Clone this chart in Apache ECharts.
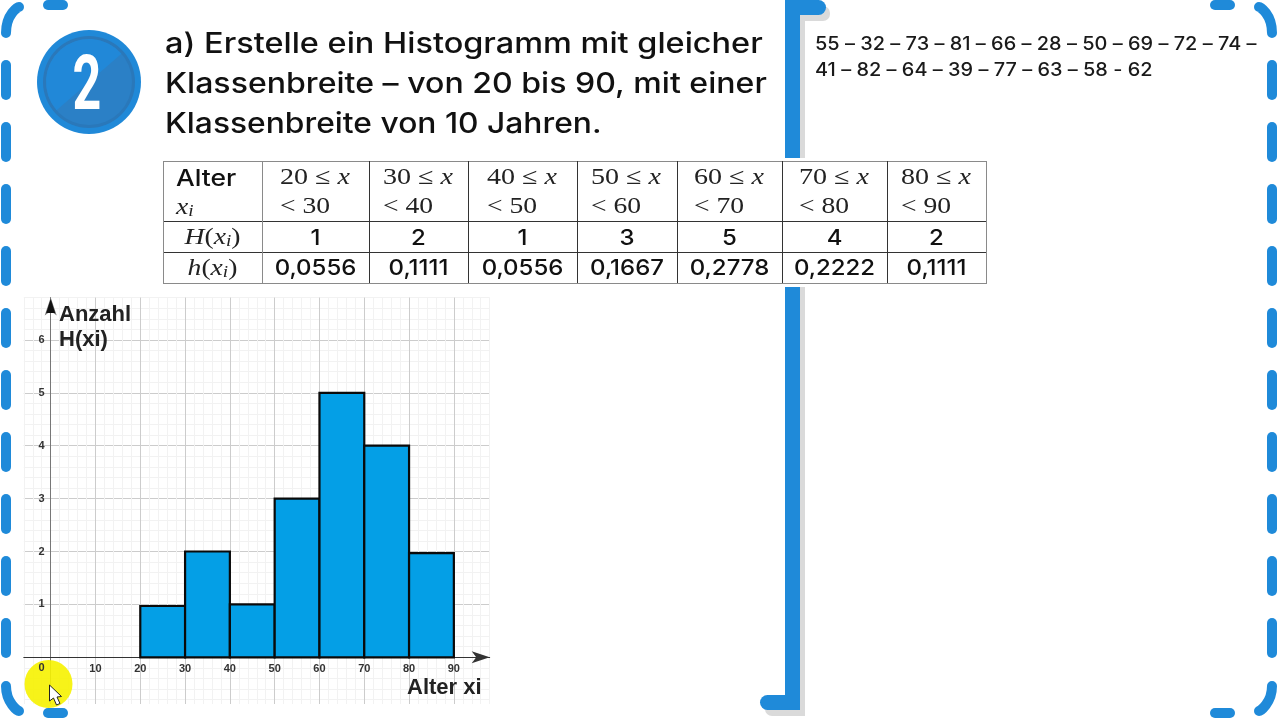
<!DOCTYPE html>
<html><head><meta charset="utf-8">
<style>html,body{margin:0;padding:0;background:#fff}#c{width:1280px;height:720px}</style>
<script src="https://cdn.jsdelivr.net/npm/echarts@6/dist/echarts.min.js"></script>
</head><body><div id="c"></div>
<script>
const classLower = [20,30,40,50,60,70,80];
const classUpper = [30,40,50,60,70,80,90];
const barHeights = [0.97,2,1,3,5,4,1.97];
const countLabels = ['1','2','1','3','5','4','2'];
const relFreqLabels = ['0,0556','0,1111','0,0556','0,1667','0,2778','0,2222','0,1111'];
const headingLines = ['a) Erstelle ein Histogramm mit gleicher','Klassenbreite – von 20 bis 90, mit einer','Klassenbreite von 10 Jahren.'];
const ageLines = ['55 – 32 – 73 – 81 – 66 – 28 – 50 – 69 – 72 – 74 –','41 – 82 – 64 – 39 – 77 – 63 – 58 - 62'];

const BLUE='#1f8ad9', SHADOW='#dadada', SANS='Inter', SERIF='"Liberation Serif"', ARIAL='"Liberation Sans"';
const colX=[163,262,369,468,577,677,782,887,986];
const rowY=[161,221,252,283];
const MAJOR='#cccccc', MINOR='#f2f2f2';
const g=[];
const rect=(x,y,w,h,fill,z,r)=>g.push({type:'rect',silent:true,z:z,shape:{x,y,width:w,height:h,r:r||0},style:{fill}});
const line=(x1,y1,x2,y2,stroke,w,z,cap)=>g.push({type:'line',silent:true,z:z,shape:{x1,y1,x2,y2},style:{stroke,lineWidth:w,lineCap:cap||'butt'}});
const text=(t,x,y,font,fill,align,z,rich,sx)=>g.push({type:'text',silent:true,z:z,x,y,scaleX:sx||1,style:{text:t,font,fill,align:align||'left',verticalAlign:'middle',rich}});

// frame dashes
for(let y=60;y<640;y+=62){ line(6,y+5,6,y+35,BLUE,10,20,'round'); line(1272,y+5,1272,y+35,BLUE,10,20,'round'); }
[[48,63,5],[48,63,713],[1215,1230,5],[1215,1230,713]].forEach(d=>line(d[0],d[2],d[1],d[2],BLUE,10,20,'round'));
[[6,33,6,14,18,7,19,7],[1272,33,1272,14,1260,7,1259,7],[6,686,6,703,18,711,19,711],[1272,686,1272,703,1260,711,1259,711]].forEach(c=>
  g.push({type:'bezierCurve',silent:true,z:20,shape:{x1:c[0],y1:c[1],cpx1:c[2],cpy1:c[3],cpx2:c[4],cpy2:c[5],x2:c[6],y2:c[7]},style:{stroke:BLUE,lineWidth:10,lineCap:'round',fill:'none'}}));

// centre bracket
rect(790,6,40,15,SHADOW,5,[0,7,7,0]);
rect(800,6,5,710,SHADOW,5);
rect(765,701,40,15,SHADOW,5,[7,0,0,7]);
rect(785,0,15,710,BLUE,6);
rect(785,0,41,15,BLUE,6,[0,7.5,7.5,0]);
rect(760,695,40,15,BLUE,6,[7.5,0,0,7.5]);
rect(770,158,230,129,'#ffffff',7);

// numbered badge
g.push({type:'circle',silent:true,z:8,shape:{cx:89,cy:82,r:52},style:{fill:'#2089d8'}});
g.push({type:'circle',silent:true,z:8,shape:{cx:89,cy:82,r:46},style:{fill:'#2a78ba'}});
g.push({type:'circle',silent:true,z:8,shape:{cx:89,cy:82,r:43},style:{fill:'#2b80c6'}});
g.push({type:'sector',silent:true,z:8,shape:{cx:89,cy:82,r:43,startAngle:Math.PI*0.772,endAngle:Math.PI*1.772},style:{fill:'#2188d8'}});
g.push({type:'text',silent:true,z:9,x:87,y:90,scaleX:0.66,style:{text:'2',font:'bold 76px Roboto',fill:'#fff',align:'center',verticalAlign:'middle'}});

// heading and raw ages
const headScale=[1.152,1.138,1.127];
headingLines.forEach((t,i)=>text(t,165,45+40*i,'500 28.2px '+SANS,'#111','left',10,undefined,headScale[i]));
ageLines.forEach((t,i)=>text(t,815,45+26*i,'500 18.3px '+SANS,'#1a1a1a','left',10,undefined,1.09));

// table
rect(163,161,824,122,'#fff',8);
rowY.forEach((y,i)=>line(163,y+.5,colX[8]+1,y+.5,(i==0||i==3)?'#8a8a8a':'#333',1,9));
colX.forEach((x,i)=>line(x+.5,161,x+.5,283,(i==0||i==1||i==8)?'#8a8a8a':'#333',1,9));
const math={m:{font:'23px '+SERIF,fill:'#222'},i:{font:'italic 23px '+SERIF,fill:'#222'},s:{font:'italic 16px '+SERIF,fill:'#222',verticalAlign:'bottom',padding:[8,0,0,0]}};
text('Alter',176,179,'500 23px '+SANS,'#111','left',10,undefined,1.15);
text('{i|x}{s|i}',176,208,'23px '+SERIF,'#222','left',10,math,1.2);
text('{i|H}{m|(}{i|x}{s|i}{m|)}',212.5,238,'23px '+SERIF,'#222','center',10,math,1.2);
text('{i|h}{m|(}{i|x}{s|i}{m|)}',212.5,269,'23px '+SERIF,'#222','center',10,math,1.2);
const lowX=[280,383,487,591,694,799,901];
classLower.forEach((lo,i)=>{
  text('{m|'+lo+' ≤ }{i|x}',lowX[i],178,'23px '+SERIF,'#222','left',10,math,1.22);
  text('{m|< '+classUpper[i]+'}',lowX[i],207,'23px '+SERIF,'#222','left',10,math,1.2);
  const cx=(colX[i+1]+colX[i+2])/2;
  text(countLabels[i],cx,238,'500 22px '+SANS,'#111','center',10,undefined,1.09);
  text(relFreqLabels[i],cx,268.5,'500 22px '+SANS,'#111','center',10,undefined,1.09);
});

// axis titles and arrow head
text('Anzahl',59,315,'bold 22px '+ARIAL,'#222','left',10);
text('H(xi)',59,340,'bold 22px '+ARIAL,'#222','left',10);
text('Alter xi',407,688,'bold 22px '+ARIAL,'#222','left',10);
g.push({type:'polygon',silent:true,z:4,shape:{points:[[50.7,299],[46.2,313],[55.2,313]]},style:{fill:'#111'}});

// trim of the grid at its lower edge, pointer highlight, origin label and cursor
rect(15,704,480,10,'#fff',1);
g.push({type:'circle',silent:true,z:2,shape:{cx:48.5,cy:684,r:24},style:{fill:'rgba(246,242,0,0.9)'}});
text('0',41.5,668,'bold 11px '+ARIAL,'#333','center',4);
g.push({type:'polygon',silent:true,z:30,shape:{points:[[49.5,685],[49.5,701],[53.5,698],[56.5,705],[60,703.5],[57,697],[61.5,696.5]]},style:{fill:'#fff',stroke:'#222',lineWidth:1}});

const xColors=[MINOR,MINOR,MINOR,MAJOR,MINOR], yColors=[MAJOR,MINOR,MINOR,MINOR,MINOR];
const near=(v,n)=>Math.abs(v-Math.round(v/n)*n)<1e-6;

const chart=echarts.init(document.getElementById('c'),null,{renderer:'canvas'});
chart.setOption({
  animation:false,backgroundColor:'#fff',
  grid:{left:23.8,top:297.6,width:465.9,height:412.6,containLabel:false},
  xAxis:{type:'value',min:-6,max:98,interval:2,offset:-52.9,
    axisLine:{show:true,onZero:false,lineStyle:{color:'#333',width:1},symbol:['none','arrow'],symbolSize:[9,18]},
    axisTick:{show:false},
    splitLine:{show:true,lineStyle:{color:xColors,width:1}},
    axisLabel:{show:true,interval:0,margin:6,showMinLabel:false,showMaxLabel:false,hideOverlap:false,
      color:'#333',fontFamily:ARIAL,fontWeight:'bold',fontSize:11,
      formatter:v=>(near(v,10)&&v>0&&v<=90)?String(Math.round(v)):''}},
  yAxis:{type:'value',min:-1,max:6.8,interval:0.2,offset:-26.9,
    axisLine:{show:true,onZero:false,lineStyle:{color:'#777',width:1},symbol:['none','arrow'],symbolSize:[9,18]},
    axisTick:{show:false},
    splitLine:{show:true,lineStyle:{color:yColors,width:1}},
    axisLabel:{show:true,interval:0,margin:6,showMinLabel:false,showMaxLabel:false,hideOverlap:false,
      color:'#333',fontFamily:ARIAL,fontWeight:'bold',fontSize:11,
      formatter:v=>(near(v,1)&&v>=0.5&&v<=6.5)?String(Math.round(v)):''}},
  graphic:{elements:g},
  series:[
   {type:'custom',name:'Anzahl H(xi)',z:3,clip:false,
    data:classLower.map((lo,i)=>[lo,classUpper[i],barHeights[i]]),
    encode:{x:[0,1],y:2},
    renderItem:(p,api)=>{
      const a=api.coord([api.value(0),api.value(2)]), b=api.coord([api.value(1),0]);
      return {type:'rect',shape:{x:a[0],y:a[1],width:b[0]-a[0],height:b[1]-a[1]},style:{fill:'#049fe6',stroke:'#0a0a0a',lineWidth:2.2}};
    }}
  ]
});
</script></body></html>
